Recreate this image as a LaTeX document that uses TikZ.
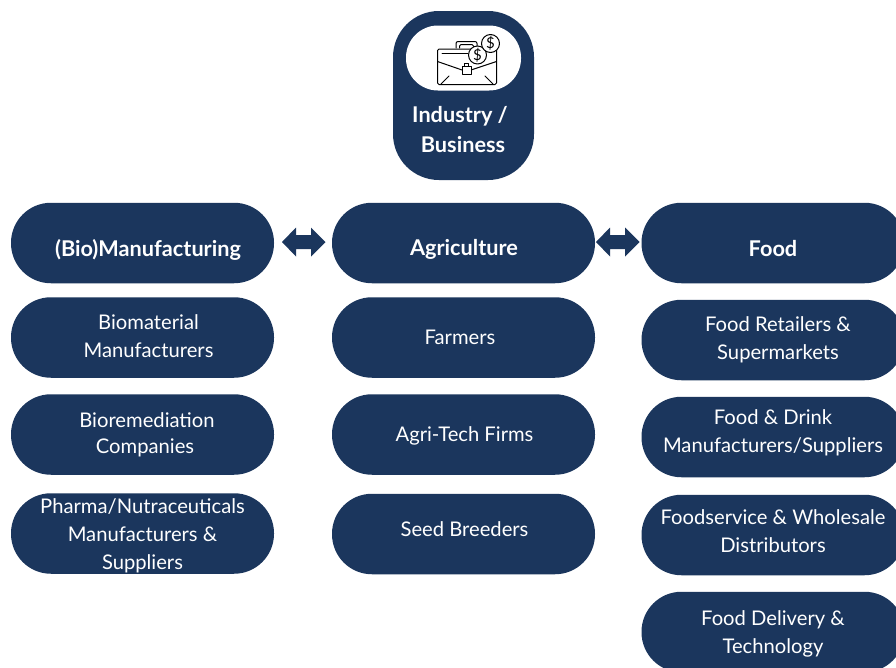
\documentclass[tikz,border=0pt]{standalone}
\usepackage{fontspec}
\setmainfont{Lato}
\definecolor{navy}{HTML}{1B365D}
\tikzset{
  pill/.style={fill=navy,rounded corners=40pt,inner sep=0pt,minimum width=263pt,minimum height=80.5pt},
  lbl/.style={text=white,font=\fontsize{20.2}{28}\selectfont,align=center,inner sep=0pt},
  head/.style={text=white,font=\fontsize{21.7}{30}\selectfont\bfseries,align=center,inner sep=0pt},
  twoway/.style={fill=navy},
  icon/.style={line width=1pt,draw=black,line join=round,line cap=round},
}
\begin{document}
\begin{tikzpicture}[x=1pt,y=-1pt]
\clip (0,0) rectangle (896,667);
\fill[white] (0,0) rectangle (896,667);
% top
\node[fill=navy,rounded corners=46pt,minimum width=141pt,minimum height=169pt,inner sep=0pt] (top) at (463.5,95.5) {};
\node[fill=white,rounded corners=32pt,minimum width=115pt,minimum height=65pt,inner sep=0pt] (badge) at (463.5,58) {};
\node[head] (toptxt1) at (460,116) {Industry /};
\node[head] (toptxt2) at (463,144.5) {Business};
% icon
\begin{scope}[icon]
\draw[rounded corners=2pt] (456,48) -- (456,41.5) -- (477,41.5) -- (477,48);
\draw[rounded corners=1.5pt] (459.5,48) -- (459.5,44.5) -- (473.5,44.5) -- (473.5,48);
\draw[fill=white,rounded corners=1.5pt] (437.5,49) rectangle (496.5,84.5);
\draw (437.5,61.5) -- (462,70) (471,70) -- (496.5,61.5);
\draw (441,84) -- (449,76) (493,84) -- (485,76);
\draw (442,53.5) -- (468,53.5);
\draw[fill=white] (462,66) rectangle (471,74);
\draw (464.5,66) -- (464.5,63.5) -- (468.5,63.5) -- (468.5,66);
\draw[fill=white] (477.5,55) circle (9);
\draw[fill=white] (490.5,43.5) circle (9);
\end{scope}
\node[inner sep=0pt,font=\fontsize{15}{15}\selectfont] (d1) at (477.5,55) {\$};
\node[inner sep=0pt,font=\fontsize{15}{15}\selectfont] (d2) at (490.5,43.5) {\$};
% columns
\node[pill] (m0) at (142.5,243) {};
\node[pill] (m1) at (142.5,337.5) {};
\node[pill] (m2) at (142.5,434.5) {};
\node[pill] (m3) at (142.5,533.5) {};
\node[pill] (a0) at (463.5,243) {};
\node[pill] (a1) at (463.5,337.5) {};
\node[pill] (a2) at (463.5,434.5) {};
\node[pill] (a3) at (463.5,534) {};
\node[pill] (f0) at (773,243) {};
\node[pill] (f1) at (773,340) {};
\node[pill] (f2) at (773,437) {};
\node[pill] (f3) at (773,535) {};
\node[pill] (f4) at (773,632) {};
% labels
\node[head] at (148,249.5) {(Bio)Manufacturing};
\node[head] at (464,249.5) {Agriculture};
\node[head] at (773,249) {Food};
\node[lbl] at (148.5,336) {Biomaterial\\Manufacturers};
\node[lbl] at (147,420) {Bioremediation};
\node[lbl] at (145,448) {Companies};
\node[lbl] at (142.5,535.5) {Pharma/Nutraceuticals\\Manufacturers \&\\Suppliers};
\node[lbl] at (460,337) {Farmers};
\node[lbl] at (464.5,435.5) {Agri-Tech Firms};
\node[lbl] at (464.5,529.5) {Seed Breeders};
\node[lbl] at (778,340) {Food Retailers \&\\Supermarkets};
\node[lbl] at (773,432.5) {Food \& Drink\\Manufacturers/Suppliers};
\node[lbl] at (773,531) {Foodservice \& Wholesale\\Distributors};
\node[lbl] at (773,633.5) {Food Delivery \&\\Technology};
% arrows
\coordinate (ma) at (303.5,242);
\coordinate (af) at (617.5,242);
\foreach \c in {ma,af}{
  \fill[twoway] (\c) ++(-21.5,0) -- ++(14,-14.5) -- ++(0,7.5) -- ++(15,0) -- ++(0,-7.5)
    -- ++(14.5,14.5) -- ++(-14.5,14.5) -- ++(0,-7.5) -- ++(-15,0) -- ++(0,7.5) -- cycle;
}
\end{tikzpicture}
\end{document}
